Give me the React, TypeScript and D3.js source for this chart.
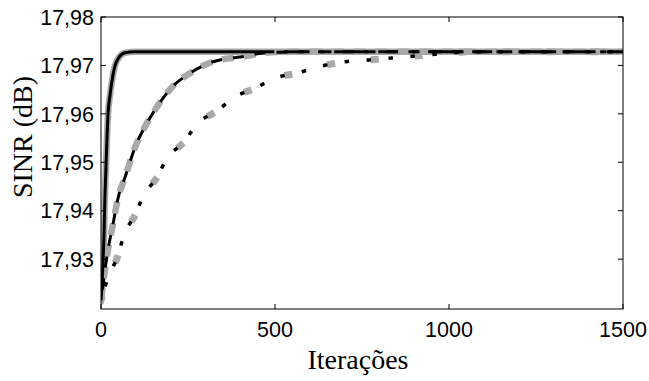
import React, { useEffect, useRef } from "react";
import * as d3 from "d3";

// iteration / SINR (dB)
const fastIter = [0, 3, 6, 9, 11, 14, 17, 20, 26, 32, 40, 52, 69, 98, 400, 1500];
const fastSinr = [17.9215, 17.9246, 17.9298, 17.936, 17.9422, 17.9484, 17.9546, 17.9598, 17.9639, 17.967, 17.9699, 17.9717, 17.9726, 17.9728, 17.9728, 17.9728];

const midIter = [0, 20, 34, 49, 69, 98, 126, 155, 204, 256, 319, 414, 471, 543, 1500];
const midSinr = [17.9215, 17.9319, 17.937, 17.9426, 17.9469, 17.9531, 17.9573, 17.9608, 17.9655, 17.9684, 17.9707, 17.9719, 17.9726, 17.9728, 17.9728];

const slowIter = [0, 20, 49, 66, 98, 121, 161, 190, 236, 279, 333, 385, 443, 500, 563, 624, 696, 764, 831, 897, 974, 1060, 1500];
const slowSinr = [17.9215, 17.9261, 17.9308, 17.935, 17.9391, 17.943, 17.9469, 17.9509, 17.954, 17.9581, 17.9606, 17.9635, 17.9653, 17.9674, 17.9684, 17.9697, 17.9707, 17.9711, 17.9715, 17.9719, 17.9724, 17.9728, 17.9728];

const xTicks = [0, 500, 1000, 1500];
const yTicks = [17.93, 17.94, 17.95, 17.96, 17.97, 17.98];

const W = 649;
const H = 381;
const gray = "#a9a9a9";

const App: React.FC = () => {
  const svgRef = useRef<SVGSVGElement | null>(null);

  useEffect(() => {
    if (!svgRef.current) return;
    const svg = d3.select(svgRef.current);
    svg.selectAll("*").remove();

    const x = d3.scaleLinear().domain([0, 1500]).range([101, 623]);
    const y = d3.scaleLinear().domain([17.9197, 17.98]).range([309, 17]);

    const toPts = (it: number[], v: number[]) => it.map((d, i) => [d, v[i]] as [number, number]);
    const line = d3
      .line<[number, number]>()
      .x((d) => x(d[0]))
      .y((d) => y(d[1]))
      .curve(d3.curveMonotoneX);

    const plot = svg.append("g");
    plot
      .append("clipPath")
      .attr("id", "clip")
      .append("rect")
      .attr("x", 101)
      .attr("y", 17)
      .attr("width", 522)
      .attr("height", 292);
    const lines = plot.append("g").attr("clip-path", "url(#clip)");

    const draw = (pts: [number, number][], color: string, width: number, dash: string | null, offset = 0, cap = "butt") => {
      lines
        .append("path")
        .attr("d", line(pts) || "")
        .attr("fill", "none")
        .attr("stroke", color)
        .attr("stroke-width", width)
        .attr("stroke-linejoin", "round")
        .attr("stroke-linecap", cap)
        .attr("stroke-dasharray", dash)
        .attr("stroke-dashoffset", offset);
    };

    const fast = toPts(fastIter, fastSinr);
    const mid = toPts(midIter, midSinr);
    const slow = toPts(slowIter, slowSinr);

    // gray series (thick, underneath)
    draw(fast, gray, 6.5, null);
    draw(mid, gray, 6.5, "12 10", 0);
    draw(slow, gray, 7, "1 43", 0, "square");

    // black series
    draw(fast.filter((d) => d[0] <= 400), "#000", 3, null);
    draw(fast.filter((d) => d[0] >= 400), "#000", 3, "34 10 20 14 6 10");
    draw(mid, "#000", 3, "11 11", 11);
    draw(slow, "#000", 3.5, "1 21", 6, "square");

    // axes box
    const box = svg.append("g");
    box
      .append("rect")
      .attr("x", 101)
      .attr("y", 17)
      .attr("width", 522)
      .attr("height", 292)
      .attr("fill", "none")
      .attr("stroke", "#000")
      .attr("stroke-width", 1);

    yTicks.forEach((t) => {
      box.append("line").attr("x1", 101).attr("x2", 106).attr("y1", y(t)).attr("y2", y(t)).attr("stroke", "#000");
      box.append("line").attr("x1", 618).attr("x2", 623).attr("y1", y(t)).attr("y2", y(t)).attr("stroke", "#000");
      box
        .append("text")
        .attr("x", 94)
        .attr("y", y(t))
        .attr("dy", "0.36em")
        .attr("text-anchor", "end")
        .attr("font-family", "Liberation Sans, Arial, sans-serif")
        .attr("font-size", 21.5)
        .text(t.toFixed(2).replace(".", ","));
    });

    xTicks.forEach((t) => {
      box.append("line").attr("x1", x(t)).attr("x2", x(t)).attr("y1", 309).attr("y2", 304).attr("stroke", "#000");
      box.append("line").attr("x1", x(t)).attr("x2", x(t)).attr("y1", 17).attr("y2", 22).attr("stroke", "#000");
      box
        .append("text")
        .attr("x", x(t))
        .attr("y", 337)
        .attr("text-anchor", "middle")
        .attr("font-family", "Liberation Sans, Arial, sans-serif")
        .attr("font-size", 21.5)
        .text(String(t));
    });

    svg
      .append("text")
      .attr("x", 358)
      .attr("y", 369)
      .attr("text-anchor", "middle")
      .attr("font-family", "Liberation Serif, Times New Roman, serif")
      .attr("font-size", 28)
      .text("Iterações");

    svg
      .append("text")
      .attr("transform", "translate(32,137) rotate(-90)")
      .attr("text-anchor", "middle")
      .attr("font-family", "Liberation Serif, Times New Roman, serif")
      .attr("font-size", 28)
      .text("SINR (dB)");
  }, []);

  return (
    <svg
      ref={svgRef}
      width={W}
      height={H}
      viewBox={`0 0 ${W} ${H}`}
      style={{ position: "absolute", left: 0, top: 0, background: "#fff" }}
    />
  );
};

export default App;
